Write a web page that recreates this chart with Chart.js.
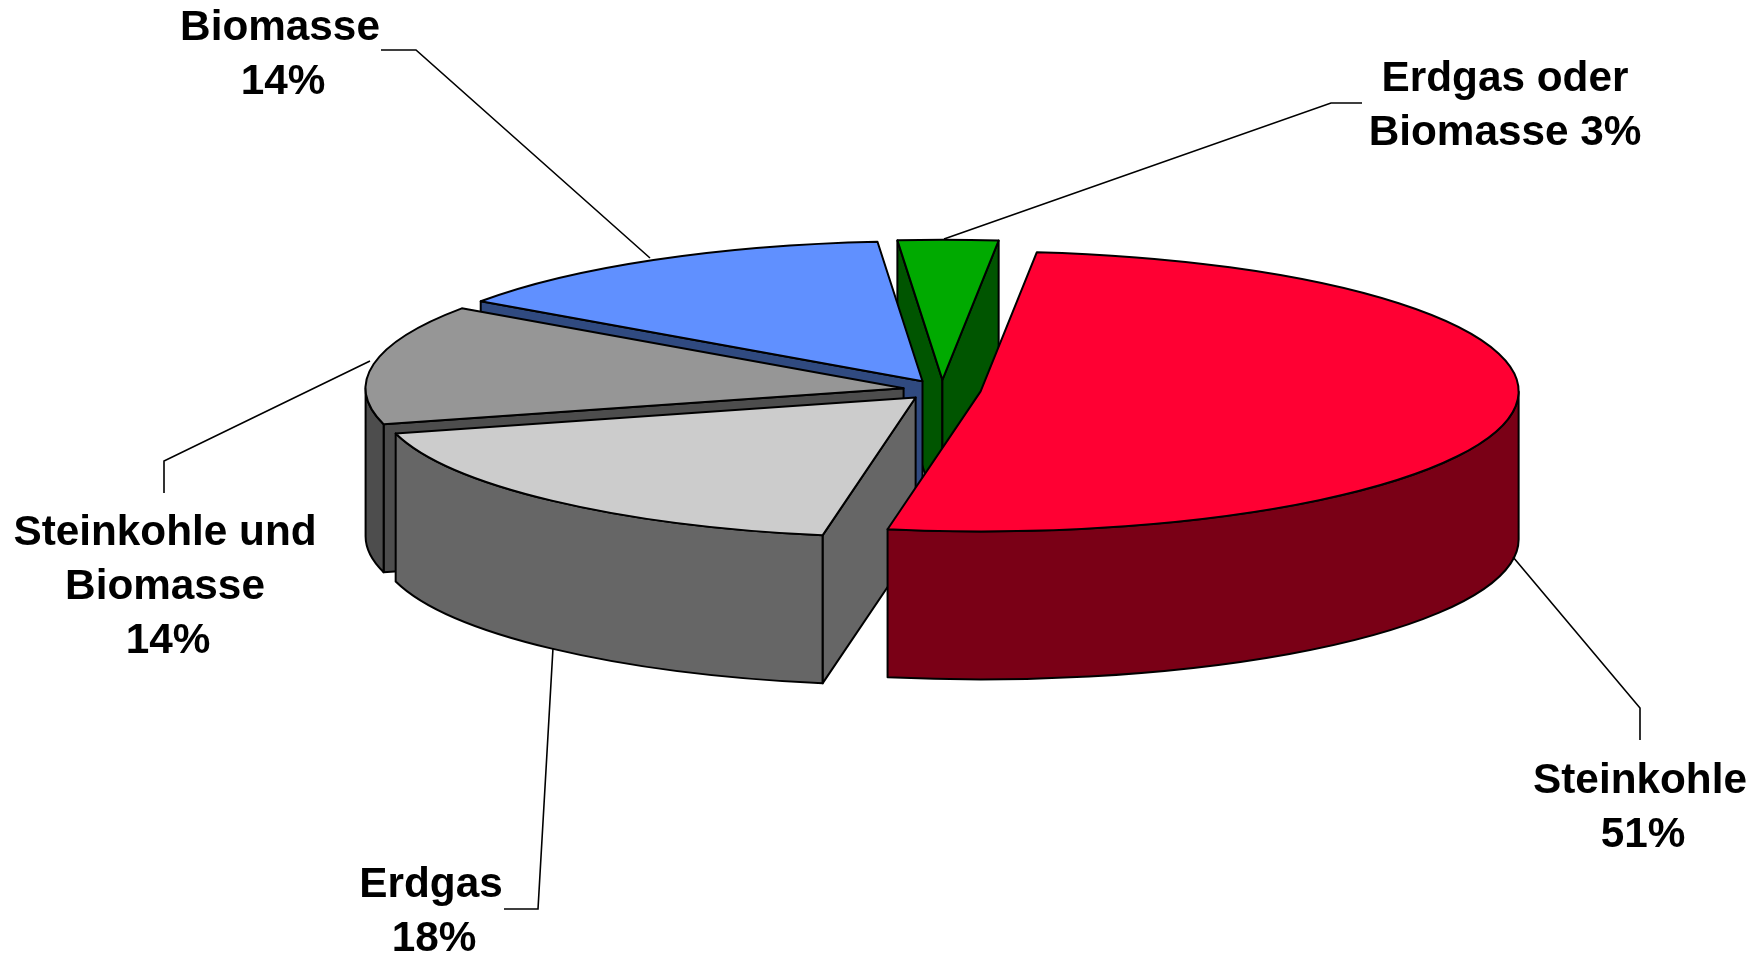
<!DOCTYPE html>
<html>
<head>
<meta charset="utf-8">
<style>html,body{margin:0;padding:0;background:#fff}canvas{display:block}</style>
<script src="https://cdn.jsdelivr.net/npm/chart.js@4/dist/chart.umd.min.js"></script>
</head>
<body>
<canvas id="c" width="1758" height="956"></canvas>
<script>
const categories = ['Steinkohle', 'Erdgas', 'Steinkohle und Biomasse', 'Biomasse', 'Erdgas oder Biomasse'];
const shares = [51.1, 18.1, 13.8, 14, 3];
const topColors = ['#FF0033', '#CCCCCC', '#969696', '#6090FF', '#00AA00'];
const wallColors = ['#7A0016', '#666666', '#4D4D4D', '#304A80', '#005500'];
const labelLines = [['Steinkohle', '51%'], ['Erdgas', '18%'], ['Steinkohle und', 'Biomasse', '14%'], ['Biomasse', '14%'], ['Erdgas oder', 'Biomasse 3%']];

// presentation constants
const RADIUS = 538, TILT = 140 / 538, DEPTH = 148, EXPLODE = 39, CY = 390;
const labelAnchors = [[1640, 793], [431, 897], [165, 545], [280, 40], [1505, 91]];
const leaders = [
  [[1513, 557], [1640, 708], [1640, 740]],
  [[553, 648], [538, 909], [504, 909]],
  [[370, 361], [164, 461], [164, 493]],
  [[381, 50], [416, 50], [650, 258]],
  [[944, 239], [1331, 103], [1362, 103]]
];

class Pie3D extends Chart.PieController {
  updateElements(arcs, start, count, mode) {
    super.updateElements(arcs, start, count, mode);
    arcs.forEach(a => {
      const mid = (a.startAngle + a.endAngle) / 2;
      a.x += Math.cos(mid) * EXPLODE;
      a.y += Math.sin(mid) * EXPLODE;
    });
  }
  draw() {
    const ctx = this.chart.ctx, arcs = this._cachedMeta.data, area = this.chart.chartArea;
    ctx.save();
    ctx.lineWidth = 2;
    ctx.lineJoin = 'round';
    ctx.strokeStyle = '#000';
    for (let i = arcs.length - 1; i >= 0; i--) {
      const arc = arcs[i];
      const s = arc.startAngle, e = arc.endAngle, r = arc.outerRadius;
      const x = arc.x, y = CY + (arc.y - CY) * TILT, b = r * TILT;
      const face = pts => {
        ctx.beginPath();
        pts.forEach((p, k) => k ? ctx.lineTo(p[0], p[1]) : ctx.moveTo(p[0], p[1]));
        ctx.closePath();
        ctx.fillStyle = wallColors[i];
        ctx.fill();
        ctx.stroke();
      };
      const radial = ang => {
        const px = x + r * Math.cos(ang), py = y + b * Math.sin(ang);
        face([[x, y], [px, py], [px, py + DEPTH], [x, y + DEPTH]]);
      };
      if (-Math.cos(s) > 0) radial(s);
      if (Math.cos(e) > 0) radial(e);
      [0, 2 * Math.PI].forEach(shift => {
        const a0 = Math.max(s, shift), a1 = Math.min(e, shift + Math.PI);
        if (a1 > a0) {
          ctx.beginPath();
          ctx.ellipse(x, y, r, b, 0, a0, a1);
          ctx.ellipse(x, y + DEPTH, r, b, 0, a1, a0, true);
          ctx.closePath();
          ctx.fillStyle = wallColors[i];
          ctx.fill();
          ctx.stroke();
        }
      });
      // top face: the library's own arc, flattened
      ctx.save();
      ctx.translate(0, CY);
      ctx.scale(1, TILT);
      ctx.translate(0, -CY);
      arc.draw(ctx, area);
      ctx.restore();
      ctx.beginPath();
      ctx.moveTo(x, y);
      ctx.ellipse(x, y, r, b, 0, s, e);
      ctx.closePath();
      ctx.stroke();
    }
    ctx.restore();
  }
}
Pie3D.id = 'pie3d';
Pie3D.defaults = Chart.PieController.defaults;
Pie3D.overrides = Chart.PieController.overrides;
Chart.register(Pie3D);

const labelPlugin = {
  id: 'calloutLabels',
  afterDraw(chart) {
    const ctx = chart.ctx;
    ctx.save();
    ctx.strokeStyle = '#000';
    ctx.lineWidth = 1.6;
    leaders.forEach(l => {
      ctx.beginPath();
      l.forEach((p, k) => k ? ctx.lineTo(p[0], p[1]) : ctx.moveTo(p[0], p[1]));
      ctx.stroke();
    });
    ctx.fillStyle = '#000';
    ctx.font = 'bold 42.3px "Liberation Sans", Arial, sans-serif';
    ctx.textAlign = 'center';
    ctx.textBaseline = 'alphabetic';
    labelLines.forEach((lines, i) => {
      lines.forEach((t, k) => {
        const nudge = /^\d+%$/.test(t) ? 3 : 0;
        ctx.fillText(t, labelAnchors[i][0] + nudge, labelAnchors[i][1] + k * 54);
      });
    });
    ctx.restore();
  }
};

new Chart(document.getElementById('c'), {
  type: 'pie3d',
  data: {
    labels: categories,
    datasets: [{
      data: shares,
      backgroundColor: topColors,
      borderWidth: 0,
      radius: RADIUS,
      rotation: 6
    }]
  },
  options: {
    responsive: false,
    animation: false,
    layout: { padding: { left: 126, bottom: 176 } },
    plugins: { legend: { display: false }, tooltip: { enabled: false } }
  },
  plugins: [labelPlugin]
});
</script>
</body>
</html>
